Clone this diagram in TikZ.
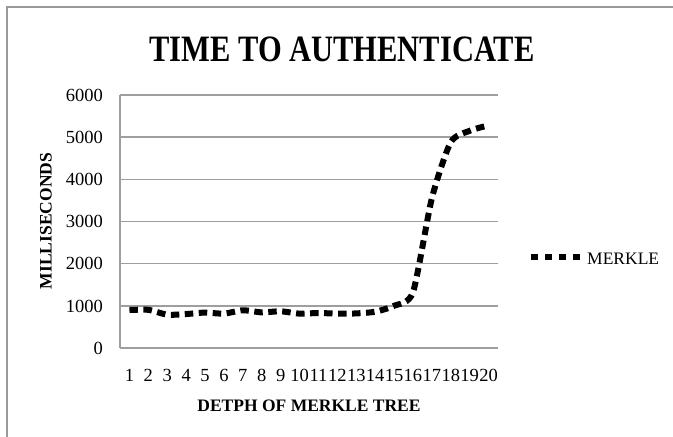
\documentclass[tikz,border=0pt]{standalone}
\usepackage{fontspec}
\setmainfont{Liberation Serif}
\usepackage{graphicx}
\usepackage{tikz}
\usetikzlibrary{arrows.meta}

\tikzset{
  gridline/.style={draw=black!38, line width=1.4pt},
  merkle/.style={line width=6pt, dash pattern=on 8.5pt off 5.5pt},
  ticklab/.style={font=\fontsize{18.5}{20}\selectfont, inner sep=0pt, text height=12.5pt, text depth=0pt},
  axislab/.style={font=\bfseries\fontsize{17.5}{20}\selectfont, inner sep=0pt}
}

\begin{document}
\begin{tikzpicture}[x=1pt, y=-1pt]
				\useasboundingbox (0,0) rectangle (673,437);
				\fill[white] (0,0) rectangle (673,437);
				\draw[black!40, line width=2pt] (7,437) -- (7,7) -- (673,7);
				\node[font=\bfseries\fontsize{30.5}{34}\selectfont, inner sep=0pt] (title) at (342,49.5) {\scalebox{1}[1.22]{TIME TO AUTHENTICATE}};
				\begin{scope}[shift={(120,348)}, x=18.9pt, y=0.04217pt]
				\foreach \v in {1000,2000,...,6000}
					\draw[gridline] (0,\v) -- (20,\v);
				\draw[gridline] (0,0) -- (0,6000);
				\draw[gridline] (0,0) -- (20,0);
				\foreach \v in {0,1000,...,6000}
					\node[ticklab, anchor=east] (v\v) at (-0.9,\v) {\v};
				\foreach \i in {1,...,20}
					\node[ticklab] (t\i) at (\i-0.5,-640) {\i};
				\draw[merkle] plot[smooth, tension=0.4] coordinates {
					(0.5,900) (1.5,905) (2.5,790) (3.5,805) (4.5,840) (5.5,815)
					(6.5,895) (7.5,845) (8.5,870) (9.5,815) (10.5,830) (11.5,815)
					(12.5,820) (13.5,860) (14.5,1000) (15.5,1320) (16.5,3550)
					(17.5,4880) (18.5,5150) (19.5,5280)};
				\end{scope}
				\node[axislab, rotate=90] (ylab) at (46,221) {MILLISECONDS};
				\node[axislab] (xlab) at (309,406) {DETPH OF MERKLE TREE};
				\coordinate (legstart) at (531,257);
				\node[font=\fontsize{17.5}{20}\selectfont, inner sep=0pt, anchor=west] (legtext) at (587,259) {MERKLE};
				\draw[merkle, dash pattern=on 6.5pt off 7.5pt] (legstart) -- ([xshift=-6pt]legtext.west |- legstart);
				\end{tikzpicture}
\end{document}
